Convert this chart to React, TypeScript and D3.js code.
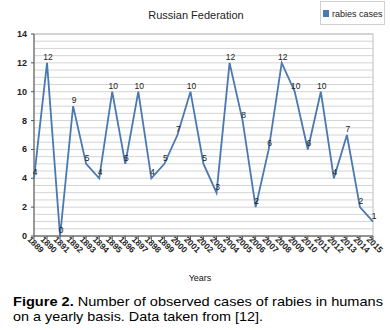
import React from "react";
import * as d3 from "d3";

const years = ["1889","1890","1891","1892","1893","1894","1895","1896","1897","1898","1899","2000","2001","2002","2003","2004","2005","2006","2007","2008","2009","2010","2011","2012","2013","2014","2015"];
const cases = [4,12,0,9,5,4,10,5,10,4,5,7,10,5,3,12,8,2,6,12,10,6,10,4,7,2,1];
const yTicks = [0,2,4,6,8,10,12,14];
const seriesName = "rabies cases";
const titleText = "Russian Federation";
const xTitle = "Years";

export default function App() {
  const left = 34, right = 373, top = 34, bottom = 236;
  const x = d3.scalePoint<string>().domain(years).range([left, right]);
  const y = d3.scaleLinear().domain([0, 14]).range([bottom, top]);
  const minor = d3.range(0, 14.01, 0.5);
  const line = d3.line<number>().x((_, i) => x(years[i])!).y(d => y(d));
  const font = "'Liberation Sans', Arial, sans-serif";
  const color = "#4a78b2";
  return (
    <svg width={390} height={330} style={{ position: "absolute", left: 0, top: 0, fontFamily: font }}>
      <rect x={0} y={0} width={390} height={330} fill="#fff" />
      <text x={196} y={19} fontSize={11} textAnchor="middle" fill="#222">{titleText}</text>
      <rect x={320.5} y={1.5} width={64} height={23} fill="#fff" stroke="#d0d0d0" />
      <rect x={323} y={10} width={6} height={7} fill={color} />
      <text x={332} y={16.5} fontSize={9} fill="#222">{seriesName}</text>
      {minor.map(v => (
        <line key={v} x1={left} x2={right} y1={y(v)} y2={y(v)} stroke="#d4d4d4" strokeWidth={1} />
      ))}
      <rect x={left} y={top} width={right - left} height={bottom - top} fill="none" stroke="#bdbdbd" />
      <line x1={left} x2={left} y1={top} y2={bottom} stroke="#555" />
      <line x1={left} x2={right} y1={bottom} y2={bottom} stroke="#555" />
      {yTicks.map(v => (
        <g key={v}>
          <line x1={left - 3} x2={left} y1={y(v)} y2={y(v)} stroke="#555" />
          <text x={27} y={y(v) + 3} fontSize={9} fontWeight="bold" textAnchor="end" fill="#222">{v}</text>
        </g>
      ))}
      {years.map(yr => (
        <g key={yr}>
          <line x1={x(yr)} x2={x(yr)} y1={bottom} y2={bottom + 4} stroke="#555" />
          <text transform={`translate(${x(yr)! - 7},${bottom + 4}) rotate(45)`} fontSize={8.5} fontWeight="bold" fill="#222">{yr}</text>
        </g>
      ))}
      <path d={line(cases)!} fill="none" stroke={color} strokeWidth={1.8} />
      {cases.map((v, i) => (
        <text key={i} x={x(years[i])! + 1} y={y(v) - 3} fontSize={8.5} textAnchor="middle" fill="#222">{v}</text>
      ))}
      <text x={200} y={281} fontSize={9} textAnchor="middle" fill="#111">{xTitle}</text>
      <text x={13} y={306} fontSize={13} fill="#000" textLength={370} lengthAdjust="spacingAndGlyphs">
        <tspan fontWeight="bold">Figure 2.</tspan> Number of observed cases of rabies in humans
      </text>
      <text x={13} y={321} fontSize={13} fill="#000" textLength={250} lengthAdjust="spacingAndGlyphs">on a yearly basis. Data taken from [12].</text>
    </svg>
  );
}
